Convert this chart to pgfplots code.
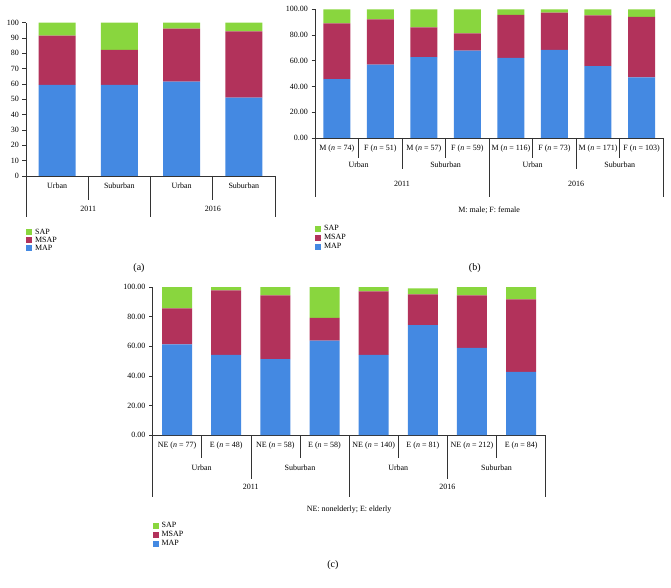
\documentclass[border=0pt]{standalone}
\usepackage{fontspec}
\setmainfont{Liberation Serif}
\usepackage{pgfplots}
\pgfplotsset{compat=1.18}

\definecolor{sapgreen}{RGB}{137,214,62}
\definecolor{msapred}{RGB}{178,50,91}
\definecolor{mapblue}{RGB}{68,137,226}

\pgfplotsset{
  panel/.style={
    scale only axis,
    anchor=south west,
    ybar stacked,
    ymin=0, ymax=100,
    enlarge x limits=false,
    axis x line=bottom,
    axis y line=left,
    axis line style={-, black!80, line width=0.6pt},
    xtick=data,
    major x tick style={draw=none},
    major y tick style={black!80, line width=0.6pt},
    tick align=outside,
    major tick length=3.5pt,
    tick label style={font=\fontsize{8}{9}\selectfont},
    /pgf/number format/assume math mode=true,
    clip=false,
    legend image code/.code={\fill[##1, draw=none] (0pt,-2.9pt) rectangle (5.8pt,2.9pt);},
    reverse legend,
    legend cell align=left,
    legend style={draw=none, fill=none, inner sep=0pt, anchor=north west,
      at={(0,0)}, font=\fontsize{8}{9}\selectfont, nodes={inner sep=0.6pt},
      column sep=2.5pt},
  },
  twodec/.style={yticklabel style={/pgf/number format/fixed,
      /pgf/number format/fixed zerofill, /pgf/number format/precision=2}},
}
\tikzset{
  sep/.style={black!80, line width=0.6pt},
  lab/.style={font=\fontsize{8}{9}\selectfont},
  panelcap/.style={font=\fontsize{10}{12}\selectfont},
}

\begin{document}
\begin{tikzpicture}[x=1pt,y=1pt]
\useasboundingbox (0,0) rectangle (671,587);

% ---------- (a)
\begin{axis}[panel,
  at={(26pt,411pt)}, width=249pt, height=153.3pt,
  xmin=-0.5, xmax=3.5, bar width=37pt,
  ytick={0,10,...,100},
  xticklabels={Urban,Suburban,Urban,Suburban},
  legend style={yshift=-52pt},
]
\addplot[fill=mapblue, draw=none] coordinates {(0,59.4) (1,59.4) (2,61.5) (3,51.1)};
\addlegendentry{MAP}
\addplot[fill=msapred, draw=none] coordinates {(0,32.1) (1,22.8) (2,34.6) (3,43.3)};
\addlegendentry{MSAP}
\addplot[fill=sapgreen, draw=none] coordinates {(0,8.5) (1,17.8) (2,3.9) (3,5.6)};
\addlegendentry{SAP}
\pgfplotsinvokeforeach{0.5,2.5}{\draw[sep] (axis cs:#1,0) -- ++(0pt,-24pt);}
\pgfplotsinvokeforeach{-0.5,1.5,3.5}{\draw[sep] (axis cs:#1,0) -- ++(0pt,-41pt);}
\node[lab, yshift=-32.7pt] at (axis cs:0.5,0) {2011};
\node[lab, yshift=-32.7pt] at (axis cs:2.5,0) {2016};
\node[panelcap, yshift=-92pt] at (axis cs:1.315,0) {(a)};
\end{axis}

% ---------- (b)
\begin{axis}[panel, twodec,
  at={(315pt,449pt)}, width=348.3pt, height=128.7pt,
  xmin=-0.5, xmax=7.5, bar width=27pt,
  ytick={0,20,...,100},
  xticklabels={M (\textit{n} = 74), F (\textit{n} = 51), M (\textit{n} = 57), F (\textit{n} = 59),
    M (\textit{n} = 116), F (\textit{n} = 73), M (\textit{n} = 171), F (\textit{n} = 103)},
  legend style={yshift=-86.5pt, row sep=1.2pt},
]
\addplot[fill=mapblue, draw=none] coordinates {(0,45.8) (1,57.0) (2,62.9) (3,67.8) (4,62.2) (5,68.4) (6,55.9) (7,47.2)};
\addlegendentry{MAP}
\addplot[fill=msapred, draw=none] coordinates {(0,43.3) (1,35.2) (2,23.1) (3,13.5) (4,33.4) (5,29.0) (6,39.4) (7,47.0)};
\addlegendentry{MSAP}
\addplot[fill=sapgreen, draw=none] coordinates {(0,10.9) (1,7.8) (2,14.0) (3,18.7) (4,4.4) (5,2.6) (6,4.7) (7,5.8)};
\addlegendentry{SAP}
\pgfplotsinvokeforeach{0.5,2.5,4.5,6.5}{\draw[sep] (axis cs:#1,0) -- ++(0pt,-20pt);}
\pgfplotsinvokeforeach{1.5,5.5}{\draw[sep] (axis cs:#1,0) -- ++(0pt,-31pt);}
\pgfplotsinvokeforeach{-0.5,3.5,7.5}{\draw[sep] (axis cs:#1,0) -- ++(0pt,-59pt);}
\node[lab, yshift=-27pt] at (axis cs:0.5,0) {Urban};
\node[lab, yshift=-27pt] at (axis cs:2.5,0) {Suburban};
\node[lab, yshift=-27pt] at (axis cs:4.5,0) {Urban};
\node[lab, yshift=-27pt] at (axis cs:6.5,0) {Suburban};
\node[lab, yshift=-46pt] at (axis cs:1.5,0) {2011};
\node[lab, yshift=-46pt] at (axis cs:5.5,0) {2016};
\node[lab, yshift=-72.7pt] at (axis cs:3.5,0) {M: male; F: female};
\node[panelcap, yshift=-130pt] at (axis cs:3.17,0) {(b)};
\end{axis}

% ---------- (c)
\begin{axis}[panel, twodec,
  at={(152.5pt,152pt)}, width=393.2pt, height=148pt,
  xmin=-0.5, xmax=7.5, bar width=30pt,
  ytick={0,20,...,100},
  xticklabels={NE (\textit{n} = 77), E (\textit{n} = 48), NE (\textit{n} = 58), E (\textit{n} = 58),
    NE (\textit{n} = 140), E (\textit{n} = 81), NE (\textit{n} = 212), E (\textit{n} = 84)},
  legend style={yshift=-86.5pt, row sep=1.2pt},
]
\addplot[fill=mapblue, draw=none] coordinates {(0,61.2) (1,54.1) (2,51.2) (3,63.8) (4,54.1) (5,74.2) (6,58.9) (7,42.7)};
\addlegendentry{MAP}
\addplot[fill=msapred, draw=none] coordinates {(0,24.4) (1,43.7) (2,43.2) (3,15.3) (4,43.0) (5,20.9) (6,35.5) (7,49.0)};
\addlegendentry{MSAP}
\addplot[fill=sapgreen, draw=none] coordinates {(0,14.4) (1,2.2) (2,5.6) (3,20.9) (4,2.9) (5,4.0) (6,5.6) (7,8.3)};
\addlegendentry{SAP}
\pgfplotsinvokeforeach{0.5,2.5,4.5,6.5}{\draw[sep] (axis cs:#1,0) -- ++(0pt,-22.7pt);}
\pgfplotsinvokeforeach{1.5,5.5}{\draw[sep] (axis cs:#1,0) -- ++(0pt,-44.3pt);}
\pgfplotsinvokeforeach{-0.5,3.5,7.5}{\draw[sep] (axis cs:#1,0) -- ++(0pt,-61.7pt);}
\node[lab, yshift=-32.7pt] at (axis cs:0.5,0) {Urban};
\node[lab, yshift=-32.7pt] at (axis cs:2.5,0) {Suburban};
\node[lab, yshift=-32.7pt] at (axis cs:4.5,0) {Urban};
\node[lab, yshift=-32.7pt] at (axis cs:6.5,0) {Suburban};
\node[lab, yshift=-51.7pt] at (axis cs:1.5,0) {2011};
\node[lab, yshift=-51.7pt] at (axis cs:5.5,0) {2016};
\node[lab, yshift=-75pt] at (axis cs:3.5,0) {NE: nonelderly; E: elderly};
\node[panelcap, yshift=-130pt] at (axis cs:3.17,0) {(c)};
\end{axis}
\end{tikzpicture}
\end{document}
